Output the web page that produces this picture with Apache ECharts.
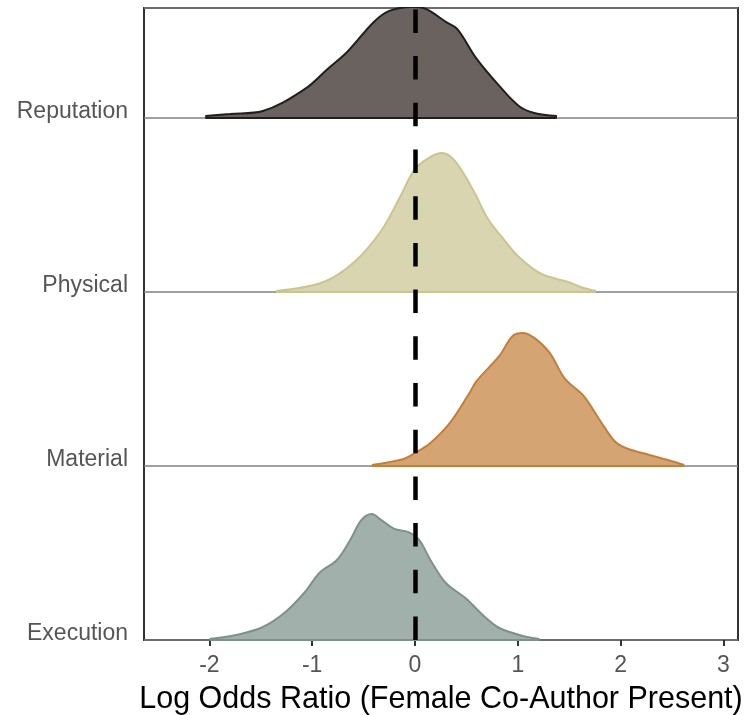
<!DOCTYPE html>
<html>
<head>
<meta charset="utf-8">
<script src="https://cdn.jsdelivr.net/npm/echarts@6/dist/echarts.min.js"></script>
<style>
  html, body { margin: 0; padding: 0; background: #fff; }
  #chart { width: 748px; height: 715px; }
</style>
</head>
<body>
<div id="chart"></div>
<script>
// Ridge rows, bottom to top
const categories = ['Execution', 'Material', 'Physical', 'Reputation'];
const xTicks = [-2, -1, 0, 1, 2, 3];

// Posterior density of the log odds ratio for each category
const executionX = [-2.00, -1.74, -1.48, -1.26, -1.07, -0.93, -0.76, -0.63, -0.52, -0.42, -0.33, -0.20, -0.07, 0.04, 0.15, 0.30, 0.49, 0.68, 0.82, 1.05, 1.21];
const executionDensity = [0.01, 0.05, 0.13, 0.28, 0.48, 0.67, 0.80, 1.00, 1.20, 1.26, 1.20, 1.11, 1.08, 1.00, 0.80, 0.57, 0.42, 0.23, 0.12, 0.04, 0.01];

const materialX = [-0.42, -0.11, 0.00, 0.15, 0.34, 0.53, 0.60, 0.82, 0.95, 1.05, 1.16, 1.31, 1.46, 1.64, 1.79, 1.94, 2.05, 2.28, 2.46, 2.62];
const materialDensity = [0.01, 0.07, 0.13, 0.23, 0.43, 0.73, 0.85, 1.10, 1.30, 1.33, 1.28, 1.13, 0.87, 0.70, 0.47, 0.25, 0.18, 0.11, 0.06, 0.01];

const physicalX = [-1.35, -0.89, -0.59, -0.33, -0.14, 0.00, 0.15, 0.26, 0.38, 0.56, 0.71, 0.86, 1.01, 1.23, 1.49, 1.61, 1.76];
const physicalDensity = [0.01, 0.10, 0.30, 0.61, 0.96, 1.23, 1.35, 1.39, 1.32, 1.03, 0.73, 0.53, 0.35, 0.18, 0.10, 0.05, 0.01];

const reputationX = [-2.04, -1.80, -1.48, -1.07, -0.85, -0.66, -0.40, -0.25, -0.03, 0.08, 0.30, 0.41, 0.60, 0.82, 1.01, 1.16, 1.38];
const reputationDensity = [0.02, 0.04, 0.07, 0.29, 0.49, 0.66, 0.96, 1.07, 1.11, 1.10, 0.96, 0.89, 0.59, 0.32, 0.12, 0.05, 0.02];

const ridgeX = [executionX, materialX, physicalX, reputationX];
const ridgeDensity = [executionDensity, materialDensity, physicalDensity, reputationDensity];

const fillColors = ['#a1b0aa', '#d4a573', '#d9d5b1', '#6a625f'];
const lineColors = ['#7d928a', '#c27f3c', '#cbc491', '#221e1d'];

// Height of one density unit, in row units
const RIDGE_SCALE = 0.575;
const Y_TOP = 3.632;

const FONT = 'Liberation Sans, Arial, sans-serif';

const series = [];
categories.forEach(function (name, i) {
  const xs = ridgeX[i];
  const ds = ridgeDensity[i];
  const pts = xs.map(function (x, k) { return [x, i + ds[k] * RIDGE_SCALE]; });
  series.push({
    name: name,
    type: 'line',
    data: pts,
    smooth: 0.35,
    symbol: 'none',
    clip: true,
    z: 3,
    lineStyle: { color: lineColors[i], width: 2 },
    areaStyle: { color: fillColors[i], opacity: 1, origin: i }
  });
  // outline along the ridge's base
  series.push({
    type: 'line',
    data: [[xs[0], i], [xs[xs.length - 1], i]],
    symbol: 'none',
    z: 4,
    lineStyle: { color: lineColors[i], width: 2 }
  });
});

// Reference line at zero
series.push({
  type: 'line',
  data: [],
  z: 10,
  markLine: {
    silent: true,
    symbol: 'none',
    label: { show: false },
    lineStyle: { color: '#000', width: 4.5, type: [23.5, 23.2] },
    data: [{ xAxis: 0 }]
  }
});

const chart = echarts.init(document.getElementById('chart'), null, { renderer: 'canvas' });
chart.setOption({
  animation: false,
  backgroundColor: '#fff',
  grid: {
    left: 144, top: 8, width: 594, height: 632,
    containLabel: false,
    outerBoundsMode: 'none',
    show: true, borderColor: '#333', borderWidth: 2, backgroundColor: 'transparent'
  },
  xAxis: {
    type: 'value',
    min: -2.636,
    max: 3.142,
    name: 'Log Odds Ratio (Female Co-Author Present)',
    nameLocation: 'middle',
    nameGap: 44,
    nameTextStyle: { fontFamily: FONT, fontSize: 30.5, color: '#000' },
    axisLine: { show: false },
    axisTick: { show: true, customValues: xTicks, length: 6, lineStyle: { color: '#333', width: 2 } },
    axisLabel: {
      customValues: xTicks,
      margin: 14,
      fontFamily: FONT,
      fontSize: 23,
      color: '#555'
    },
    splitLine: { show: false }
  },
  yAxis: {
    type: 'value',
    min: 0,
    max: Y_TOP,
    interval: 1,
    axisLine: { show: false },
    axisTick: { show: false },
    axisLabel: {
      showMaxLabel: false,
      margin: 16,
      fontFamily: FONT,
      fontSize: 23,
      color: '#555',
      verticalAlign: 'bottom',
      lineHeight: 12,
      formatter: function (v) {
        const idx = Math.round(v);
        return Math.abs(v - idx) < 1e-6 && categories[idx] ? categories[idx] : '';
      }
    },
    splitLine: { show: true, lineStyle: { color: '#808080', width: 1.5 } }
  },
  series: series
});
</script>
</body>
</html>
